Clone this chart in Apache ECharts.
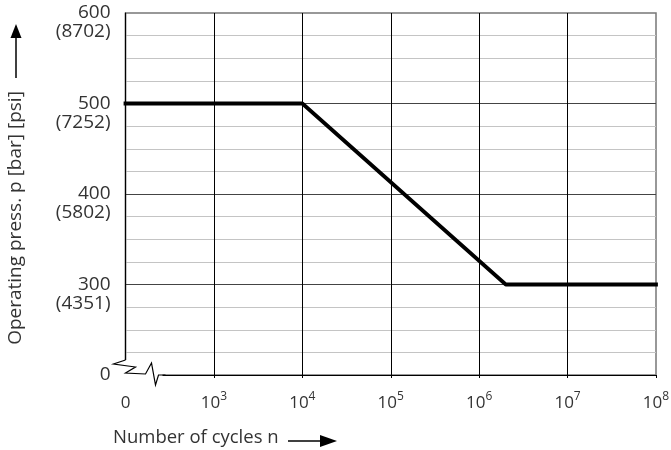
<!DOCTYPE html>
<html>
<head>
<meta charset="utf-8">
<script src="https://cdn.jsdelivr.net/npm/echarts@6/dist/echarts.min.js"></script>
<style>
  html, body { margin: 0; padding: 0; background: #fff; }
  #chart { width: 671px; height: 450px; }
</style>
</head>
<body>
<div id="chart"></div>
<script>
// x positions are log10(n); exponent 2 is the "0" position left of the break
const xTicks = [2, 3, 4, 5, 6, 7, 8]
const cycleExp = [2, 4, 6.301, 8]
const pressureBar = [500, 500, 300, 300]
// y ticks in bar; 200 is drawn as "0" below the break
const barTicks = [200, 300, 400, 500, 600]
const barLabels = ['0', '300', '400', '500', '600']
const psiLabels = ['', '(4351)', '(5802)', '(7252)', '(8702)']

const font = '"Open Sans", "Noto Sans", sans-serif'
const textColor = '#333'

const chart = echarts.init(document.getElementById('chart'))

const option = {
  animation: false,
  backgroundColor: '#fff',
  grid: {
    left: 125.5, right: 15, top: 13, bottom: 75,
    outerBoundsMode: 'none',
    show: true, borderColor: '#777', borderWidth: 1.5
  },
  xAxis: {
    type: 'value',
    min: 2, max: 8, interval: 1,
    axisLine: { show: true, onZero: false, lineStyle: { color: '#000', width: 1.2 } },
    axisTick: { show: true, length: 3, lineStyle: { color: '#000' } },
    splitLine: { show: true, showMaxLine: false, lineStyle: { color: '#000', width: 1 } },
    axisLabel: {
      margin: 16,
      color: textColor,
      fontFamily: font,
      fontSize: 17,
      formatter: v => v === xTicks[0] ? '{b|0}' : '{b|10}{s|' + v + '}',
      rich: {
        b: { fontFamily: font, fontSize: 17, color: textColor, lineHeight: 21, verticalAlign: 'bottom' },
        s: { fontFamily: font, fontSize: 12, color: textColor, verticalAlign: 'top' }
      }
    }
  },
  yAxis: {
    type: 'value',
    min: 200, max: 600, interval: 100,
    axisLine: { show: true, lineStyle: { color: '#000', width: 1.2 } },
    axisTick: { show: false },
    minorTick: { show: false, splitNumber: 4 },
    minorSplitLine: { show: true, lineStyle: { color: '#c4c4c4', width: 1.2 } },
    splitLine: { show: true, showMaxLine: false, lineStyle: { color: '#444', width: 1 } },
    axisLabel: {
      margin: 15,
      color: textColor,
      fontFamily: font,
      fontSize: 19,
      lineHeight: 19,
      padding: [4, 0, 0, 0],
      formatter: v => {
        const i = barTicks.indexOf(v)
        if (i <= 0) return barLabels[0]
        return ' \n' + barLabels[i] + '\n' + psiLabels[i]
      }
    }
  },
  series: [{
    type: 'line',
    data: cycleExp.map((x, i) => [x, pressureBar[i]]),
    symbol: 'none',
    z: 5,
    lineStyle: { color: '#000', width: 3.8, cap: 'square' }
  }]
}
chart.setOption(option)

// decorations: axis break marks, axis titles and arrows
const o = chart.convertToPixel({ gridIndex: 0 }, [xTicks[0], barTicks[0]])
const ox = o[0], oy = o[1]
const breakPts = [[0, -15], [-12, -11], [10, -8], [0, -2], [20, -1], [26, -12], [30, 10], [33, 0], [40, 0]]

chart.setOption({
  graphic: [
    {
      type: 'rect', z: 100, silent: true,
      shape: { x: ox - 3, y: oy - 15, width: 40, height: 18 },
      style: { fill: '#fff' }
    },
    {
      type: 'polyline', z: 101, silent: true,
      shape: { points: breakPts.map(p => [ox + p[0], oy + p[1]]) },
      style: { stroke: '#000', lineWidth: 1.2, fill: null }
    },
    {
      type: 'text', z: 101, x: 16, y: 218, rotation: Math.PI / 2,
      style: { text: 'Operating press. p [bar] [psi]', fill: textColor, font: '19px ' + font, align: 'center', verticalAlign: 'middle' }
    },
    {
      type: 'line', z: 101,
      shape: { x1: 16, y1: 78, x2: 16, y2: 37 },
      style: { stroke: '#000', lineWidth: 1.5 }
    },
    {
      type: 'polygon', z: 101,
      shape: { points: [[16, 24], [10.5, 38], [21.5, 38]] },
      style: { fill: '#000' }
    },
    {
      type: 'text', z: 101, x: 113, y: 438,
      style: { text: 'Number of cycles n', fill: textColor, font: '18.5px ' + font, align: 'left', verticalAlign: 'middle' }
    },
    {
      type: 'line', z: 101,
      shape: { x1: 288, y1: 441, x2: 322, y2: 441 },
      style: { stroke: '#000', lineWidth: 1.5 }
    },
    {
      type: 'polygon', z: 101,
      shape: { points: [[337, 441], [320, 435], [320, 447]] },
      style: { fill: '#000' }
    }
  ]
})
</script>
</body>
</html>
